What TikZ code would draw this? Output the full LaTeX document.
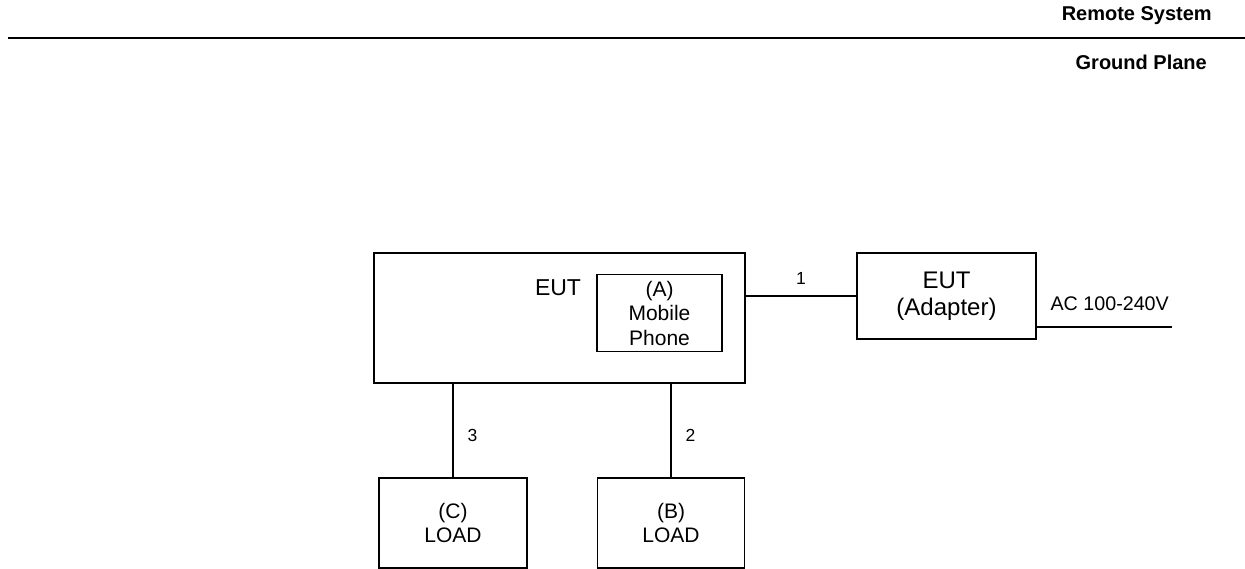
\documentclass[tikz,border=0pt]{standalone}
\usepackage{fontspec}
\setmainfont{Liberation Sans}
\usetikzlibrary{positioning}
\begin{document}
\begin{tikzpicture}[
    x=1pt, y=-1pt,
    box/.style={draw, line width=1.2pt, inner sep=0pt, align=center},
    wire/.style={line width=1.2pt},
    tag/.style={inner sep=0pt, font=\fontsize{17.5}{20}\selectfont},
    head/.style={inner sep=0pt, anchor=east, font=\bfseries\fontsize{20}{24}\selectfont}
]
\useasboundingbox (0,0) rectangle (1245,568);
\clip (0,0) rectangle (1245,568);

% ground plane
\node[head] (remote) at (1212,16) {Remote System};
\node[head] (ground) at (1207,62) {Ground Plane};
\coordinate (gl) at (8,38);
\coordinate (gr) at (1245,38);
\draw[line width=2pt] (gl) -- (gr);

% units
\node[box, minimum width=371pt, minimum height=130pt] (eut) at (559.5,318) {};
\node[tag, font=\fontsize{23}{26}\selectfont] (eutlabel) at (558,288) {EUT};
\node[box, minimum width=125pt, minimum height=77pt, font=\fontsize{21}{24.5}\selectfont] (phone) at (659.5,313) {(A)\\Mobile\\Phone};
\node[box, minimum width=179pt, minimum height=86pt, font=\fontsize{24}{27}\selectfont] (adapter) at (946.5,296) {EUT\\(Adapter)};
\node[box, minimum width=148pt, minimum height=90pt, font=\fontsize{21}{23.5}\selectfont] (loadc) at (453,523) {(C)\\LOAD};
\node[box, minimum width=147pt, minimum height=90pt, font=\fontsize{21}{23.5}\selectfont] (loadb) at (671,523) {(B)\\LOAD};

% cables
\draw[wire] (eut.east |- adapter.west) -- node[tag, above=11pt] (c1) {1} (adapter.west);
\draw[wire] (loadb.north |- eut.south) -- node[tag, right=14pt, pos=0.55] (c2) {2} (loadb.north);
\draw[wire] (loadc.north |- eut.south) -- node[tag, right=14pt, pos=0.55] (c3) {3} (loadc.north);
\coordinate (acend) at (1172,327);
\draw[wire] (acend -| adapter.east) -- node[tag, above=16pt, pos=0.54, font=\fontsize{19.7}{22}\selectfont] (ac) {AC 100-240V} (acend);
\end{tikzpicture}
\end{document}
